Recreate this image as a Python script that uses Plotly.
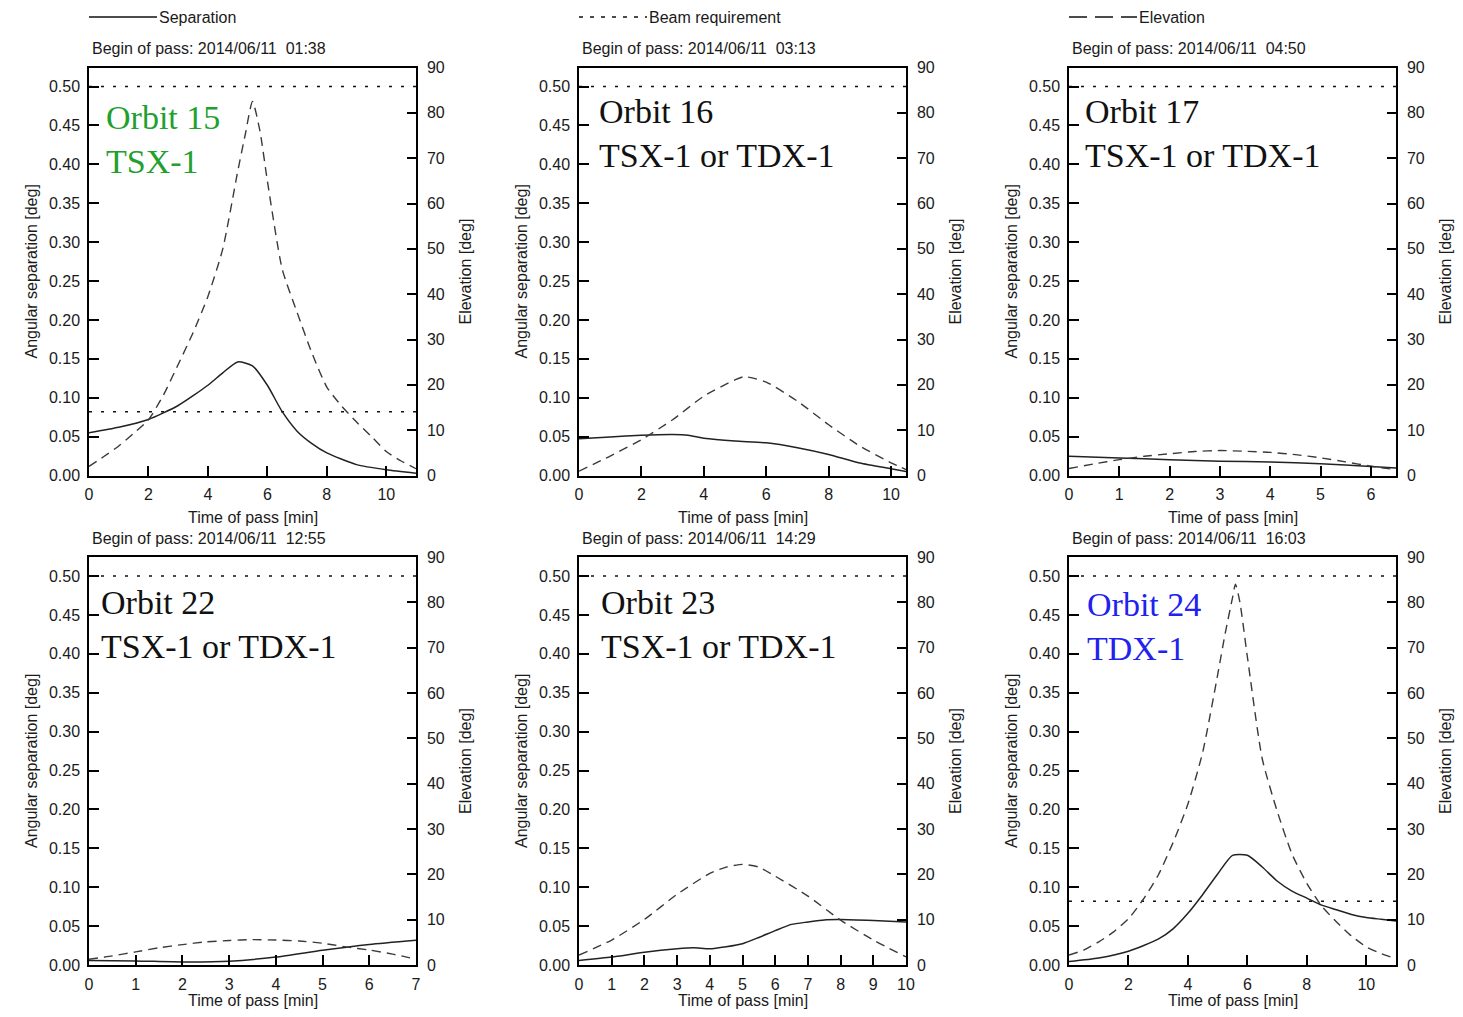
import plotly.graph_objects as go

# the page body keeps an 8px margin, so the figure is 16px smaller than the window
OFF = 8
W, H = 1463 - 2 * OFF, 1017 - 2 * OFF


def px(x):
    return (x - OFF) / W


def py(y):
    return 1 - (y - OFF) / H


# ---- data ----
orbits = ['Orbit 15', 'Orbit 16', 'Orbit 17', 'Orbit 22', 'Orbit 23', 'Orbit 24']
satellites = ['TSX-1', 'TSX-1 or TDX-1', 'TSX-1 or TDX-1',
              'TSX-1 or TDX-1', 'TSX-1 or TDX-1', 'TDX-1']
orbit_colors = ['#22a02e', '#111111', '#111111', '#111111', '#111111', '#2222ee']
begin_times = ['2014/06/11  01:38', '2014/06/11  03:13', '2014/06/11  04:50',
               '2014/06/11  12:55', '2014/06/11  14:29', '2014/06/11  16:03']
pass_len = [11, 10.48, 6.5, 7, 10, 11]
x_dtick = [2, 2, 1, 1, 1, 2]
beam_req = [[0.5, 0.082], [0.5], [0.5], [0.5], [0.5], [0.5, 0.082]]

# separation [deg]
t_sep15 = [0, 1, 2, 3, 4, 4.5, 5, 5.5, 6, 6.5, 7, 7.5, 8, 9, 10, 11]
sep15 = [0.055, 0.062, 0.072, 0.090, 0.116, 0.132, 0.146, 0.141, 0.116, 0.082,
         0.057, 0.041, 0.029, 0.014, 0.0074, 0.003]
t_sep16 = [0, 1, 2, 3, 3.5, 4, 5, 6, 7, 8, 9, 10, 10.48]
sep16 = [0.0474, 0.0496, 0.0517, 0.0526, 0.0517, 0.048, 0.0443, 0.042, 0.0357,
         0.027, 0.016, 0.0087, 0.0052]
t_sep17 = [0, 1, 2, 3, 4, 5, 6, 6.5]
sep17 = [0.0248, 0.0226, 0.0204, 0.0183, 0.0174, 0.0152, 0.0117, 0.0096]
t_sep22 = [0, 1, 2, 3, 4, 5, 6, 7]
sep22 = [0.0058, 0.0053, 0.004, 0.0049, 0.0102, 0.019, 0.0265, 0.0319]
t_sep23 = [0, 1, 2, 3, 3.5, 4, 4.5, 5, 5.5, 6, 6.5, 7, 7.5, 8, 9, 10]
sep23 = [0.0058, 0.0102, 0.0164, 0.0208, 0.0221, 0.0208, 0.0235, 0.0274, 0.0354,
         0.0442, 0.0522, 0.0553, 0.058, 0.0584, 0.0571, 0.0553]
t_sep24 = [0, 1, 2, 3, 3.5, 4, 4.5, 5, 5.5, 6, 6.5, 7, 7.5, 8, 8.5, 9, 9.5, 10, 10.5, 11]
sep24 = [0.0044, 0.0089, 0.0177, 0.0332, 0.0465, 0.0664, 0.0907, 0.117, 0.141, 0.141,
         0.126, 0.108, 0.095, 0.086, 0.077, 0.071, 0.065, 0.061, 0.0588, 0.0566]

# elevation [deg]
t_el15 = [0, 0.5, 1, 1.5, 2, 2.5, 3, 3.5, 4, 4.5, 5, 5.25, 5.5, 5.75, 6, 6.5, 7,
          7.5, 8, 8.5, 9, 9.5, 10, 10.5, 11]
el15 = [2.0, 4.2, 6.5, 9.3, 12.3, 17.7, 24.5, 31.5, 39.5, 50, 67, 75, 82.5, 76, 65,
        45.5, 36, 27, 19.5, 15.3, 11.8, 8.6, 5.3, 3.2, 1.5]
t_el16 = [0, 1, 2, 3, 4, 5, 5.3, 6, 7, 8, 9, 10, 10.48]
el16 = [0.95, 4.3, 7.9, 12.3, 17.5, 21.1, 21.8, 20.6, 16.4, 11.2, 6.5, 2.8, 1.3]
t_el17 = [0, 0.5, 1, 1.5, 2, 2.5, 3, 3.5, 4, 4.5, 5, 5.5, 6, 6.5]
el17 = [1.54, 2.57, 3.5, 4.25, 4.8, 5.3, 5.5, 5.35, 5.1, 4.6, 3.9, 3.0, 2.05, 1.3]
t_el22 = [0, 0.5, 1, 1.5, 2, 2.5, 3, 3.5, 4, 4.5, 5, 5.5, 6, 6.5, 7]
el22 = [1.25, 2.0, 2.9, 3.8, 4.5, 5.1, 5.4, 5.6, 5.5, 5.3, 4.8, 4.0, 3.3, 2.4, 1.3]
t_el23 = [0, 1, 2, 3, 4, 4.5, 5, 5.5, 6, 7, 8, 9, 10]
el23 = [2.2, 5.5, 10.05, 15.6, 20.2, 21.6, 22.2, 21.6, 19.6, 15.2, 9.9, 5.5, 1.8]
t_el24 = [0, 0.5, 1, 1.5, 2, 2.5, 3, 3.5, 4, 4.5, 5, 5.25, 5.5, 5.6, 5.75, 6, 6.5,
          7, 7.5, 8, 8.5, 9, 9.5, 10, 10.5, 11]
el24 = [2.2, 3.3, 5.1, 7.3, 10.2, 14.5, 19.8, 27, 35.5, 47, 64, 73, 81, 84, 80, 68,
        45.5, 34, 24.5, 18, 13, 9.5, 6.4, 4.0, 2.5, 1.4]

sep_t = [t_sep15, t_sep16, t_sep17, t_sep22, t_sep23, t_sep24]
sep = [sep15, sep16, sep17, sep22, sep23, sep24]
el_t = [t_el15, t_el16, t_el17, t_el22, t_el23, t_el24]
el = [el15, el16, el17, el22, el23, el24]

# ---- layout geometry (pixels of the page) ----
col_left = [89, 579, 1069]
row_top = [67.5, 557]
pw, ph = 327, 408
xtitle_y = [517, 1000]
label_pos = [(104, 140), (597, 134), (1083, 133.5),
             (99, 624), (599, 624), (1085, 626.5)]

TXT = '#1a1a1a'
SANS = 'Arial, Liberation Sans, sans-serif'
SERIF = 'Times New Roman, Liberation Serif, serif'
DOT = '3px,9px'
DASH = '9px,6px'

fig = go.Figure()
layout = {}
annotations = []

for i in range(6):
    r, c = divmod(i, 3)
    x0, y0 = col_left[c], row_top[r]
    xa = 'x' if i == 0 else f'x{i + 1}'
    yl = 'y' if i == 0 else f'y{2 * i + 1}'
    yr = f'y{2 * i + 2}'
    xname = 'xaxis' if i == 0 else f'xaxis{i + 1}'
    ylname = 'yaxis' if i == 0 else f'yaxis{2 * i + 1}'
    yrname = f'yaxis{2 * i + 2}'

    tickfont = dict(family=SANS, size=16, color=TXT)
    layout[xname] = dict(
        domain=[px(x0), px(x0 + pw)], anchor=yl, range=[0, pass_len[i]],
        dtick=x_dtick[i], tick0=0, ticks='inside', ticklen=10, tickwidth=1.5,
        tickcolor='black', showline=True, linecolor='black', linewidth=1.5,
        mirror=True, showgrid=False, zeroline=False, tickfont=tickfont,
        ticklabelstandoff=4, automargin=False)
    layout[ylname] = dict(
        domain=[py(y0 + ph), py(y0)], anchor=xa, range=[0, 0.5245],
        tickvals=[k * 0.05 for k in range(11)], tickformat='.2f',
        ticks='inside', ticklen=10, tickwidth=1.5, tickcolor='black',
        showline=True, linecolor='black', linewidth=1.5, showgrid=False,
        zeroline=False, tickfont=tickfont, ticklabelstandoff=4, automargin=False)
    layout[yrname] = dict(
        overlaying=yl, anchor=xa, side='right', range=[0, 90], dtick=10,
        ticks='inside', ticklen=9, tickwidth=1.5, tickcolor='black',
        showline=True, linecolor='black', linewidth=1.5, showgrid=False,
        zeroline=False, tickfont=tickfont, ticklabelstandoff=6, automargin=False)

    for b in beam_req[i]:
        fig.add_trace(go.Scatter(
            x=[0, pass_len[i]], y=[b, b], mode='lines', xaxis=xa, yaxis=yl,
            line=dict(color='#111111', width=1.4, dash=DOT), showlegend=False))
    fig.add_trace(go.Scatter(
        x=el_t[i], y=el[i], mode='lines', xaxis=xa, yaxis=yr,
        line=dict(color='#3a3a3a', width=1.4, dash=DASH, shape='spline', smoothing=0.6),
        showlegend=False))
    fig.add_trace(go.Scatter(
        x=sep_t[i], y=sep[i], mode='lines', xaxis=xa, yaxis=yl,
        line=dict(color='#222222', width=1.5, shape='spline', smoothing=0.6),
        showlegend=False))

    # texts around each panel
    annotations.append(dict(
        text='Begin of pass: ' + begin_times[i].replace('  ', '\u00a0 '),
        x=px(x0 + 1), y=py(y0 - 19), xref='paper', yref='paper',
        xanchor='left', yanchor='middle', showarrow=False,
        font=dict(family=SANS, size=16, color=TXT)))
    annotations.append(dict(
        text='Time of pass [min]', x=px(x0 + pw / 2), y=py(xtitle_y[r]),
        xref='paper', yref='paper', xanchor='center', yanchor='middle',
        showarrow=False, font=dict(family=SANS, size=16, color=TXT)))
    annotations.append(dict(
        text='Angular separation [deg]', x=px(x0 - 58), y=py(y0 + ph / 2),
        xref='paper', yref='paper', xanchor='center', yanchor='middle',
        textangle=-90, showarrow=False, font=dict(family=SANS, size=16, color=TXT)))
    annotations.append(dict(
        text='Elevation [deg]', x=px(x0 + pw + 49), y=py(y0 + ph / 2),
        xref='paper', yref='paper', xanchor='center', yanchor='middle',
        textangle=-90, showarrow=False, font=dict(family=SANS, size=16, color=TXT)))
    lx, ly = label_pos[i]
    annotations.append(dict(
        text=orbits[i] + '<br>' + satellites[i], x=px(lx), y=py(ly),
        xref='paper', yref='paper', xanchor='left', yanchor='middle',
        align='left', showarrow=False,
        font=dict(family=SERIF, size=34, color=orbit_colors[i])))

# legend drawn across the top
legend_names = ['Separation', 'Beam requirement', 'Elevation']
legend_dash = ['solid', '4px,7px', '18px,8px']
shapes = []
for k in range(3):
    lx = col_left[k]
    shapes.append(dict(type='line', xref='paper', yref='paper',
                       x0=px(lx), x1=px(lx + 68), y0=py(17), y1=py(17),
                       line=dict(color='#111111', width=1.5, dash=legend_dash[k])))
    annotations.append(dict(
        text=legend_names[k], x=px(lx + 68), y=py(17), xref='paper', yref='paper',
        xanchor='left', yanchor='middle', showarrow=False,
        font=dict(family=SANS, size=16, color=TXT)))

fig.update_layout(
    width=W, height=H, margin=dict(l=0, r=0, t=0, b=0, autoexpand=False),
    paper_bgcolor='white', plot_bgcolor='white',
    annotations=annotations, shapes=shapes, **layout)

fig.write_html("out.html")
